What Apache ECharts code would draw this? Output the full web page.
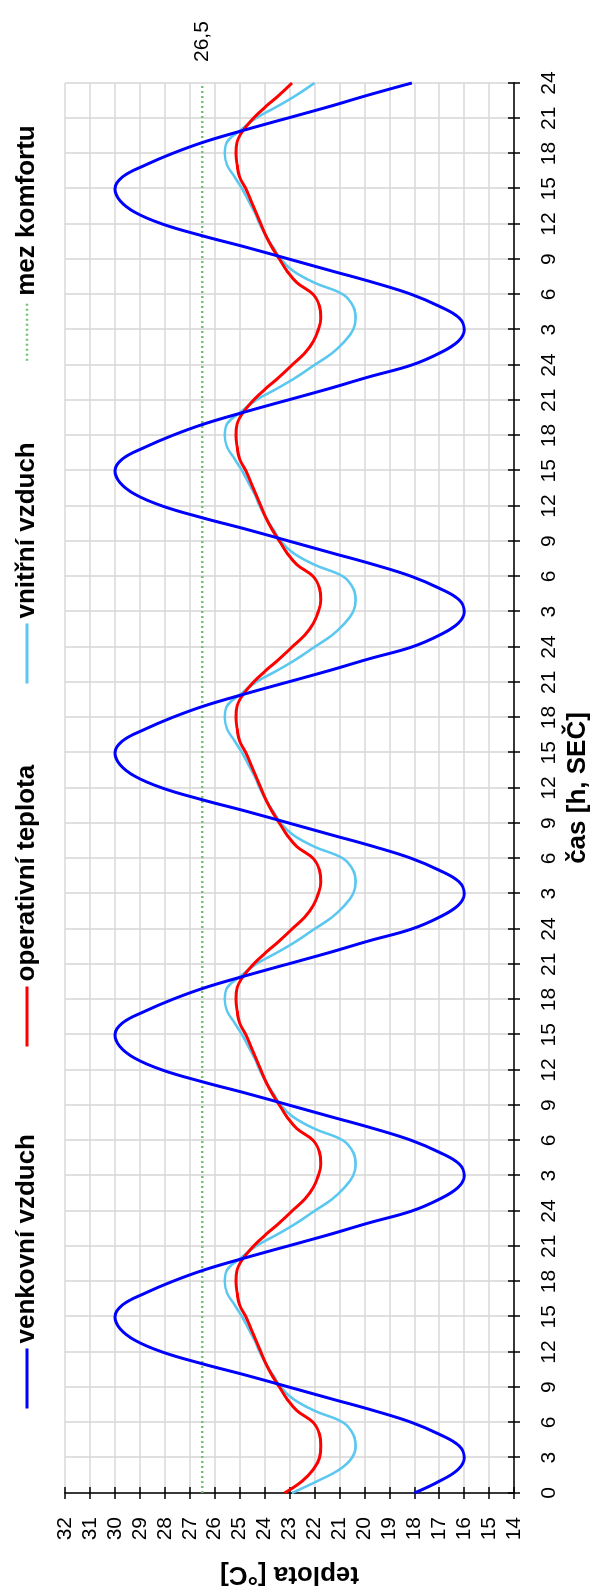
<!DOCTYPE html>
<html>
<head>
<meta charset="utf-8">
<script src="https://cdn.jsdelivr.net/npm/echarts@6/dist/echarts.min.js"></script>
<style>
html, body { margin:0; padding:0; width:596px; height:1596px; overflow:hidden; background:#fff; }
#chart { position:absolute; left:0; top:0; width:1596px; height:596px;
  transform-origin:0 0; transform: translate(0px, 1596px) rotate(-90deg); }
</style>
</head>
<body>
<div id="chart"></div>
<script>
// hour index 0..120 (5 days)
const OUTDOOR = [
  18.0, 17.0, 16.25, 16.0, 16.2, 17.0, 18.1, 19.6, 21.3, 23.0, 24.7, 26.5, 28.1, 29.2, 29.8, 30.0, 29.7, 28.8, 27.7, 26.4, 24.8, 23.1, 21.4, 19.8, 18.1,
  17.0, 16.25, 16.0, 16.2, 17.0, 18.1, 19.6, 21.3, 23.0, 24.7, 26.5, 28.1, 29.2, 29.8, 30.0, 29.7, 28.8, 27.7, 26.4, 24.8, 23.1, 21.4, 19.8, 18.1,
  17.0, 16.25, 16.0, 16.2, 17.0, 18.1, 19.6, 21.3, 23.0, 24.7, 26.5, 28.1, 29.2, 29.8, 30.0, 29.7, 28.8, 27.7, 26.4, 24.8, 23.1, 21.4, 19.8, 18.1,
  17.0, 16.25, 16.0, 16.2, 17.0, 18.1, 19.6, 21.3, 23.0, 24.7, 26.5, 28.1, 29.2, 29.8, 30.0, 29.7, 28.8, 27.7, 26.4, 24.8, 23.1, 21.4, 19.8, 18.1,
  17.0, 16.25, 16.0, 16.2, 17.0, 18.1, 19.6, 21.3, 23.0, 24.7, 26.5, 28.1, 29.2, 29.8, 30.0, 29.7, 28.8, 27.7, 26.4, 24.8, 23.1, 21.4, 19.8, 18.1
];
const OPERATIVE = [
  23.2, 22.5, 22.05, 21.8, 21.75, 21.8, 22.05, 22.7, 23.1, 23.4, 23.7, 23.95, 24.15, 24.35, 24.55, 24.75, 25.0, 25.1, 25.15, 25.1, 24.85, 24.45, 23.95, 23.4, 22.9,
  22.4, 22.05, 21.85, 21.75, 21.8, 22.05, 22.7, 23.1, 23.4, 23.7, 23.95, 24.15, 24.35, 24.55, 24.75, 25.0, 25.1, 25.15, 25.1, 24.85, 24.45, 23.95, 23.4, 22.9,
  22.4, 22.05, 21.85, 21.75, 21.8, 22.05, 22.7, 23.1, 23.4, 23.7, 23.95, 24.15, 24.35, 24.55, 24.75, 25.0, 25.1, 25.15, 25.1, 24.85, 24.45, 23.95, 23.4, 22.9,
  22.4, 22.05, 21.85, 21.75, 21.8, 22.05, 22.7, 23.1, 23.4, 23.7, 23.95, 24.15, 24.35, 24.55, 24.75, 25.0, 25.1, 25.15, 25.1, 24.85, 24.45, 23.95, 23.4, 22.9,
  22.4, 22.05, 21.85, 21.75, 21.8, 22.05, 22.7, 23.1, 23.4, 23.7, 23.95, 24.15, 24.35, 24.55, 24.75, 25.0, 25.1, 25.15, 25.1, 24.85, 24.45, 23.95, 23.4, 22.9
];
const INDOOR = [
  22.9, 21.9, 21.0, 20.5, 20.35, 20.45, 20.85, 22.0, 22.85, 23.35, 23.65, 23.95, 24.2, 24.4, 24.65, 24.9, 25.2, 25.5, 25.6, 25.5, 24.95, 24.35, 23.5, 22.7, 22.0,
  21.3, 20.8, 20.45, 20.35, 20.45, 20.85, 22.0, 22.85, 23.35, 23.65, 23.95, 24.2, 24.4, 24.65, 24.9, 25.2, 25.5, 25.6, 25.5, 24.95, 24.35, 23.5, 22.7, 22.0,
  21.3, 20.8, 20.45, 20.35, 20.45, 20.85, 22.0, 22.85, 23.35, 23.65, 23.95, 24.2, 24.4, 24.65, 24.9, 25.2, 25.5, 25.6, 25.5, 24.95, 24.35, 23.5, 22.7, 22.0,
  21.3, 20.8, 20.45, 20.35, 20.45, 20.85, 22.0, 22.85, 23.35, 23.65, 23.95, 24.2, 24.4, 24.65, 24.9, 25.2, 25.5, 25.6, 25.5, 24.95, 24.35, 23.5, 22.7, 22.0,
  21.3, 20.8, 20.45, 20.35, 20.45, 20.85, 22.0, 22.85, 23.35, 23.65, 23.95, 24.2, 24.4, 24.65, 24.9, 25.2, 25.5, 25.6, 25.5, 24.95, 24.35, 23.5, 22.7, 22.0
];
const COMFORT_LIMIT = 26.5;
const COMFORT_LABEL = '26,5';
const TIME_MIN = 0, TIME_MAX = 120, TIME_STEP = 3;
const TEMP_MIN = 14, TEMP_MAX = 32, TEMP_STEP = 1;
const NAMES = ['venkovní vzduch', 'operativní teplota', 'vnitřní vzduch', 'mez komfortu'];
const X_TITLE = 'čas [h, SEČ]';
const Y_TITLE = 'teplota [°C]';

const FONT = 'Liberation Sans, Arial, sans-serif';
const pairs = arr => arr.map((v, i) => [i, v]);
const hourLabel = v => v === 0 ? '0' : String(((v - 1) % 24) + 1);

const chart = echarts.init(document.getElementById('chart'));
const legendBase = {
  orient: 'horizontal', top: 9, itemWidth: 60, itemHeight: 14, itemGap: 0,
  itemStyle: { opacity: 0 },
  lineStyle: { width: 3 },
  textStyle: { fontFamily: FONT, fontSize: 26, fontWeight: 'bold', color: '#000' },
  selectedMode: false
};
const axisLineStyle = { color: '#000', width: 1.5 };
const gridLineStyle = { color: '#d9d9d9', width: 1.6 };

chart.setOption({
  animation: false,
  backgroundColor: '#fff',
  grid: { left: 103, right: 83, top: 65, bottom: 78 },
  legend: [
    Object.assign({}, legendBase, { data: [NAMES[0]], left: 181 }),
    Object.assign({}, legendBase, { data: [NAMES[1]], left: 543 }),
    Object.assign({}, legendBase, { data: [NAMES[2]], left: 906 }),
    Object.assign({}, legendBase, { data: [NAMES[3]], left: 1229, lineStyle: { width: 2.5 } })
  ],
  xAxis: [
    { type: 'value', min: TIME_MIN, max: TIME_MAX, interval: TIME_STEP, position: 'bottom',
      axisLine: { show: true, onZero: false, lineStyle: axisLineStyle },
      axisTick: { show: true, length: 6, lineStyle: axisLineStyle },
      axisLabel: { formatter: hourLabel, fontFamily: FONT, fontSize: 21, color: '#000', margin: 25 },
      splitLine: { show: true, lineStyle: gridLineStyle },
      name: X_TITLE, nameLocation: 'middle', nameGap: 48,
      nameTextStyle: { fontFamily: FONT, fontSize: 26, fontWeight: 'bold', color: '#000' } },
    { type: 'value', min: TIME_MIN, max: TIME_MAX, interval: TIME_STEP, position: 'bottom',
      axisLine: { show: false, onZero: false },
      axisTick: { show: true, inside: true, length: 6, lineStyle: axisLineStyle },
      axisLabel: { show: false }, splitLine: { show: false } }
  ],
  yAxis: [
    { type: 'value', min: TEMP_MIN, max: TEMP_MAX, interval: TEMP_STEP, position: 'left',
      axisLine: { show: true, onZero: false, lineStyle: axisLineStyle },
      axisTick: { show: true, length: 6, lineStyle: axisLineStyle },
      axisLabel: { fontFamily: FONT, fontSize: 21, color: '#000', margin: 24 },
      splitLine: { show: true, lineStyle: gridLineStyle },
      name: Y_TITLE, nameLocation: 'middle', nameGap: 68,
      nameTextStyle: { fontFamily: FONT, fontSize: 26, fontWeight: 'bold', color: '#000' } },
    { type: 'value', min: TEMP_MIN, max: TEMP_MAX, interval: TEMP_STEP, position: 'left',
      axisLine: { show: false, onZero: false },
      axisTick: { show: true, inside: true, length: 6, lineStyle: axisLineStyle },
      axisLabel: { show: false }, splitLine: { show: false } }
  ],
  series: [
    { name: NAMES[3], type: 'line', data: [[TIME_MIN, COMFORT_LIMIT], [TIME_MAX, COMFORT_LIMIT]],
      symbol: 'none', color: '#72c472', z: 1,
      lineStyle: { color: '#72c472', width: 2.5, type: [2, 3] },
      endLabel: { show: true, formatter: COMFORT_LABEL, distance: 21, fontFamily: FONT, fontSize: 21, color: '#000' } },
    { name: NAMES[1], type: 'line', data: pairs(OPERATIVE), symbol: 'none', smooth: 0.4,
      color: '#ff0000', z: 3, lineStyle: { color: '#ff0000', width: 3 } },
    { name: NAMES[2], type: 'line', data: pairs(INDOOR), symbol: 'none', smooth: 0.4,
      color: '#5cc8f0', z: 2, lineStyle: { color: '#5cc8f0', width: 2.6 } },
    { name: NAMES[0], type: 'line', data: pairs(OUTDOOR), symbol: 'none', smooth: 0.4,
      color: '#0000ff', z: 4, lineStyle: { color: '#0000ff', width: 3 } }
  ]
});
</script>
</body>
</html>
